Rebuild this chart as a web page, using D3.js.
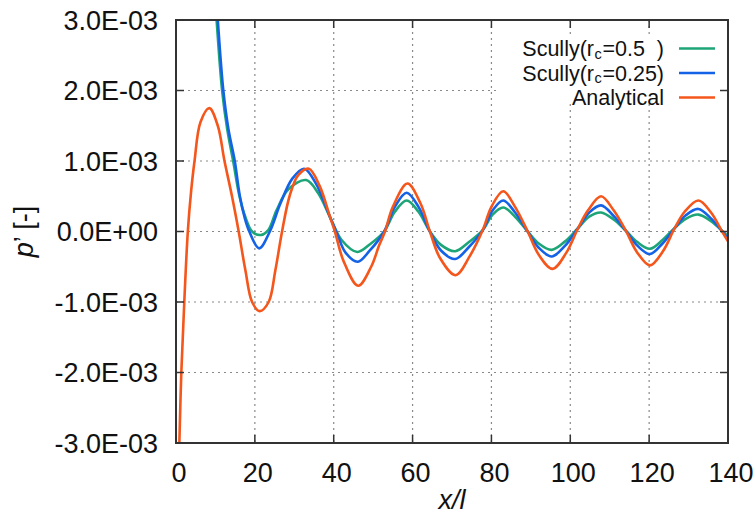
<!DOCTYPE html>
<html>
<head>
<meta charset="utf-8">
<script src="https://cdn.jsdelivr.net/npm/d3@7"></script>
<style>
  html, body { margin: 0; padding: 0; background: #fff; }
  svg text { font-family: "Liberation Sans", Arial, Helvetica, sans-serif; fill: #111; }
</style>
</head>
<body>
<svg id="chart" width="756" height="517"></svg>
<script>
// ---- data (y values in units of 1E-03) ----
const UNIT = 1e-3;
const xTicks = [0, 20, 40, 60, 80, 100, 120, 140];
const yTicks = [-3e-3, -2e-3, -1e-3, 0, 1e-3, 2e-3, 3e-3];
const yTickLabels = ["-3.0E-03", "-2.0E-03", "-1.0E-03", "0.0E+00", "1.0E-03", "2.0E-03", "3.0E-03"];

const seriesNames = ["Scully(r_c=0.5  )", "Scully(r_c=0.25)", "Analytical"];

const greenX = [9.6, 10.3, 11.7, 13.0, 14.5, 16.1, 17.5, 19.3, 21.5, 23.4, 25.5, 28.5, 33.0, 36.0, 39.1, 42.0, 46.0, 49.2, 52.8, 55.5, 58.5, 61.5, 64.4, 67.2, 70.8, 74.3, 77.8, 80.3, 83.0, 86.0, 89.2, 92.0, 95.3, 98.7, 102.0, 104.8, 107.8, 111.0, 114.1, 117.0, 120.2, 123.4, 126.5, 129.3, 132.5, 135.6, 138.7, 140.0];
const greenY = [3.6, 3.0, 2.0, 1.45, 1.0, 0.5, 0.22, 0.0, -0.05, 0.02, 0.3, 0.6, 0.73, 0.55, 0.2, -0.12, -0.29, -0.18, 0.0, 0.28, 0.44, 0.28, 0.0, -0.19, -0.28, -0.15, 0.02, 0.24, 0.34, 0.21, 0.0, -0.17, -0.26, -0.14, 0.05, 0.21, 0.27, 0.17, 0.01, -0.15, -0.245, -0.12, 0.05, 0.18, 0.24, 0.15, 0.0, -0.07];

const blueX = [9.9, 10.6, 12.0, 13.3, 14.9, 16.2, 17.4, 18.6, 21.1, 23.8, 26.5, 29.5, 32.5, 35.5, 39.1, 41.0, 43.0, 46.1, 49.0, 52.8, 55.5, 58.5, 61.5, 64.4, 67.2, 70.8, 74.3, 77.8, 80.3, 83.0, 86.0, 89.2, 92.0, 95.3, 98.7, 102.0, 104.8, 107.8, 111.0, 114.1, 117.0, 120.2, 123.4, 126.5, 129.3, 132.5, 135.6, 138.7, 140.0];
const blueY = [3.6, 3.0, 2.0, 1.45, 1.0, 0.5, 0.2, 0.0, -0.24, 0.0, 0.4, 0.75, 0.89, 0.68, 0.2, -0.05, -0.3, -0.43, -0.28, 0.0, 0.35, 0.55, 0.35, 0.0, -0.27, -0.39, -0.22, 0.02, 0.3, 0.44, 0.27, 0.0, -0.23, -0.355, -0.2, 0.05, 0.27, 0.37, 0.22, 0.01, -0.2, -0.32, -0.17, 0.05, 0.23, 0.32, 0.19, -0.01, -0.1];

const orangeX = [0.55, 0.85, 1.35, 2.1, 3.0, 3.8, 4.7, 6.2, 8.45, 10.6, 12.3, 14.2, 15.9, 17.6, 19.3, 21.2, 23.5, 25.2, 26.9, 28.8, 31.0, 33.7, 36.4, 39.1, 40.3, 42.5, 46.2, 49.5, 51.5, 53.0, 55.0, 58.7, 62.0, 64.4, 67.0, 70.9, 74.5, 77.8, 80.0, 83.0, 86.0, 89.2, 92.0, 95.5, 99.0, 102.0, 104.5, 107.8, 111.0, 114.1, 117.0, 120.2, 123.5, 126.5, 129.0, 132.5, 135.7, 138.7, 140.0];
const orangeY = [-3.6, -3.0, -2.0, -1.0, 0.0, 0.55, 1.0, 1.55, 1.75, 1.5, 1.0, 0.5, 0.0, -0.55, -1.0, -1.13, -1.0, -0.55, 0.0, 0.5, 0.8, 0.89, 0.65, 0.2, 0.0, -0.42, -0.77, -0.5, -0.2, 0.0, 0.35, 0.68, 0.4, 0.0, -0.38, -0.62, -0.35, 0.02, 0.35, 0.57, 0.35, 0.0, -0.33, -0.53, -0.3, 0.05, 0.3, 0.5, 0.3, 0.01, -0.3, -0.48, -0.28, 0.05, 0.28, 0.44, 0.27, -0.02, -0.14];

const colors = ["#1da577", "#1462e6", "#f4561c"];

// ---- layout ----
const svg = d3.select("#chart");
const L = 176, R = 728, T = 20, B = 443;
const x = d3.scaleLinear().domain([0, 140]).range([L, R]);
const y = d3.scaleLinear().domain([-3e-3, 3e-3]).range([B, T]);

svg.append("defs").append("clipPath").attr("id", "clip")
  .append("rect").attr("x", L).attr("y", T).attr("width", R - L).attr("height", B - T);

// grid
const grid = svg.append("g").attr("stroke", "#8a8a8a").attr("stroke-width", 1.2).attr("stroke-dasharray", "2,4");
grid.selectAll("line.gx").data(xTicks.slice(1, -1)).join("line")
  .attr("x1", d => x(d)).attr("x2", d => x(d)).attr("y1", T).attr("y2", B);
grid.selectAll("line.gy").data(yTicks.slice(1, -1)).join("line")
  .attr("x1", L).attr("x2", R).attr("y1", d => y(d)).attr("y2", d => y(d));

// curves
const line = d3.line().x(d => x(d[0])).y(d => y(d[1] * UNIT)).curve(d3.curveCatmullRom.alpha(0.5));
const series = [
  { xs: greenX, ys: greenY, c: colors[0] },
  { xs: blueX, ys: blueY, c: colors[1] },
  { xs: orangeX, ys: orangeY, c: colors[2] }
];
const curves = svg.append("g").attr("clip-path", "url(#clip)");
series.forEach(s => {
  curves.append("path")
    .datum(s.xs.map((v, i) => [v, s.ys[i]]))
    .attr("d", line)
    .attr("fill", "none")
    .attr("stroke", s.c)
    .attr("stroke-width", 2.6)
    .attr("stroke-linejoin", "round");
});

// legend (opaque)
svg.append("rect").attr("x", 500).attr("y", 37).attr("width", R - 500).attr("height", 67).attr("fill", "#fff");
const legend = svg.append("g");
const rowY = [48.5, 73, 97.5];
const textEnd = 664;
seriesNames.forEach((name, i) => {
  const parts = name.split("_");
  if (parts.length === 2) {
    // three adjacent pieces: main text, subscript, rest
    const rest = legend.append("text")
      .attr("x", textEnd).attr("y", rowY[i]).attr("dy", "0.35em")
      .attr("text-anchor", "end").attr("font-size", 21.5)
      .style("white-space", "pre").text(parts[1].slice(1));
    const wRest = rest.node().getComputedTextLength();
    const sub = legend.append("text")
      .attr("x", textEnd - wRest - 0.6).attr("y", rowY[i] + 5).attr("dy", "0.35em")
      .attr("text-anchor", "end").attr("font-size", 14.5)
      .text(parts[1][0]);
    const wSub = sub.node().getComputedTextLength();
    legend.append("text")
      .attr("x", textEnd - wRest - wSub - 1.2).attr("y", rowY[i]).attr("dy", "0.35em")
      .attr("text-anchor", "end").attr("font-size", 21.5)
      .text(parts[0]);
  } else {
    legend.append("text")
      .attr("x", textEnd).attr("y", rowY[i]).attr("dy", "0.35em")
      .attr("text-anchor", "end").attr("font-size", 21.5)
      .text(name);
  }
  legend.append("line")
    .attr("x1", 679).attr("x2", 715).attr("y1", rowY[i]).attr("y2", rowY[i])
    .attr("stroke", colors[i]).attr("stroke-width", 2.6);
});

// border & ticks
svg.append("rect").attr("x", L).attr("y", T).attr("width", R - L).attr("height", B - T)
  .attr("fill", "none").attr("stroke", "#333").attr("stroke-width", 2);
const ticks = svg.append("g").attr("stroke", "#333").attr("stroke-width", 1.5);
const tl = 8;
xTicks.forEach(d => {
  ticks.append("line").attr("x1", x(d)).attr("x2", x(d)).attr("y1", B).attr("y2", B - tl);
  ticks.append("line").attr("x1", x(d)).attr("x2", x(d)).attr("y1", T).attr("y2", T + tl);
});
yTicks.forEach(d => {
  ticks.append("line").attr("x1", L).attr("x2", L + tl).attr("y1", y(d)).attr("y2", y(d));
  ticks.append("line").attr("x1", R).attr("x2", R - tl).attr("y1", y(d)).attr("y2", y(d));
});

// tick labels
svg.append("g").selectAll("text").data(yTicks).join("text")
  .attr("x", 158).attr("y", d => y(d)).attr("dy", "0.36em")
  .attr("text-anchor", "end").attr("font-size", 27)
  .text((d, i) => yTickLabels[i]);
svg.append("g").selectAll("text").data(xTicks).join("text")
  .attr("x", d => x(d) + 3).attr("y", 482)
  .attr("text-anchor", "middle").attr("font-size", 27)
  .text(d => d);

// axis titles
svg.append("text").attr("x", (L + R) / 2).attr("y", 509)
  .attr("text-anchor", "middle").attr("font-size", 27).attr("font-style", "italic")
  .text("x/l");
const yt = svg.append("text")
  .attr("transform", `translate(33,${(T + B) / 2}) rotate(-90)`)
  .attr("text-anchor", "middle").attr("font-size", 27)
  .style("white-space", "pre");
yt.append("tspan").attr("font-style", "italic").text("p");
yt.append("tspan").text("’ [-]");
</script>
</body>
</html>
